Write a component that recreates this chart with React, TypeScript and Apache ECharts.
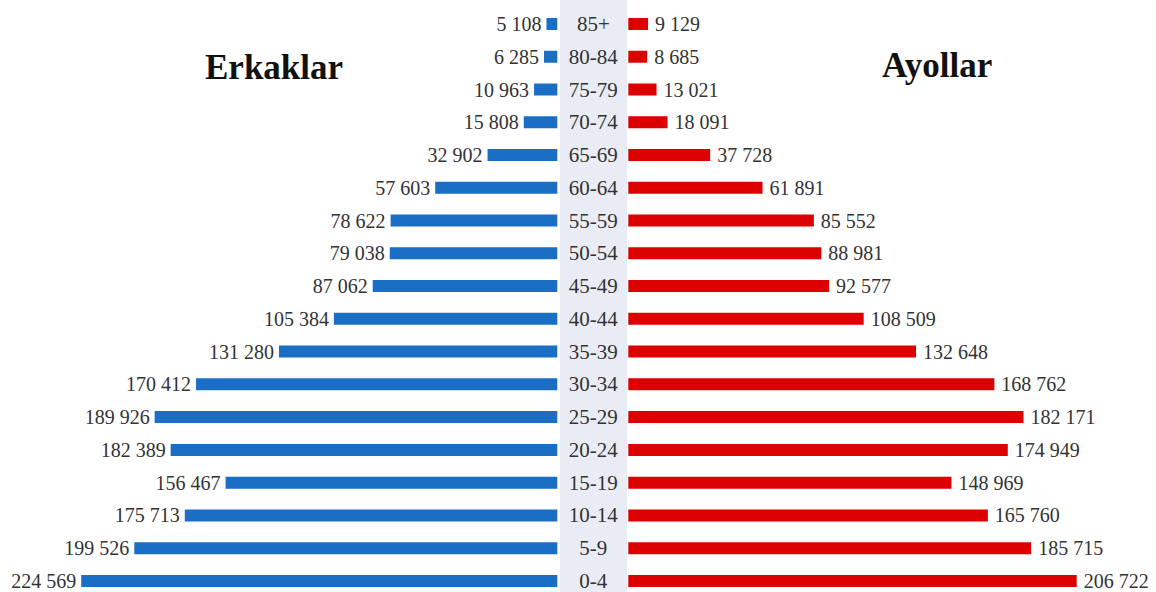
import React, { useEffect, useRef } from "react";
import * as echarts from "echarts";

const ageGroups = ["85+", "80-84", "75-79", "70-74", "65-69", "60-64", "55-59", "50-54", "45-49", "40-44", "35-39", "30-34", "25-29", "20-24", "15-19", "10-14", "5-9", "0-4"];
const men = [5108, 6285, 10963, 15808, 32902, 57603, 78622, 79038, 87062, 105384, 131280, 170412, 189926, 182389, 156467, 175713, 199526, 224569];
const women = [9129, 8685, 13021, 18091, 37728, 61891, 85552, 88981, 92577, 108509, 132648, 168762, 182171, 174949, 148969, 165760, 185715, 206722];
const titleMen = "Erkaklar";
const titleWomen = "Ayollar";

const fmt = (v: number) => String(v).replace(/\B(?=(\d{3})+(?!\d))/g, " ");
const FONT = "'Liberation Serif', 'Times New Roman', serif";

export default function App() {
  const ref = useRef<HTMLDivElement>(null);
  useEffect(() => {
    document.body.style.margin = "0";
    document.body.style.overflow = "hidden";
    document.documentElement.style.overflow = "hidden";
    const chart = echarts.init(ref.current!, null, { renderer: "svg" });
    const catAxisCommon = {
      type: "category" as const,
      data: ageGroups,
      inverse: true,
      axisLine: { show: false },
      axisTick: { show: false },
    };
    chart.setOption({
      animation: false,
      backgroundColor: "#ffffff",
      graphic: [
        { type: "rect", shape: { x: 560, y: 0, width: 67, height: 604 }, style: { fill: "#e9ecf4" }, z: -10 },
        { type: "text", x: 205, y: 67, style: { text: titleMen, font: `bold 35px ${FONT}`, fill: "#111", textVerticalAlign: "middle" } },
        { type: "text", x: 882, y: 65, style: { text: titleWomen, font: `bold 35px ${FONT}`, fill: "#111", textVerticalAlign: "middle" } },
      ],
      grid: [
        { left: 69.7, width: 487.6, top: 7.6, height: 589.7, containLabel: false },
        { left: 628.3, width: 477.2, top: 7.6, height: 589.7, containLabel: false },
      ],
      xAxis: [
        { type: "value", gridIndex: 0, min: 0, max: 230000, inverse: true, show: false },
        { type: "value", gridIndex: 1, min: 0, max: 220000, show: false },
      ],
      yAxis: [
        {
          ...catAxisCommon,
          gridIndex: 0,
          position: "right",
          axisLabel: { show: true, align: "center", margin: 36, fontFamily: FONT, fontSize: 21, color: "#333" },
        },
        { ...catAxisCommon, gridIndex: 1, axisLabel: { show: false } },
      ],
      series: [
        {
          type: "bar",
          xAxisIndex: 0,
          yAxisIndex: 0,
          data: men,
          barWidth: 12,
          itemStyle: { color: "#1a6fc4" },
          label: { show: true, position: "left", distance: 5, formatter: (p: any) => fmt(p.value), fontFamily: FONT, fontSize: 20, color: "#333" },
        },
        {
          type: "bar",
          xAxisIndex: 1,
          yAxisIndex: 1,
          data: women,
          barWidth: 12,
          itemStyle: { color: "#dc0000" },
          label: { show: true, position: "right", distance: 7, formatter: (p: any) => fmt(p.value), fontFamily: FONT, fontSize: 20, color: "#333" },
        },
      ],
    });
    return () => chart.dispose();
  }, []);
  return <div ref={ref} style={{ width: 1156, height: 604 }} />;
}
